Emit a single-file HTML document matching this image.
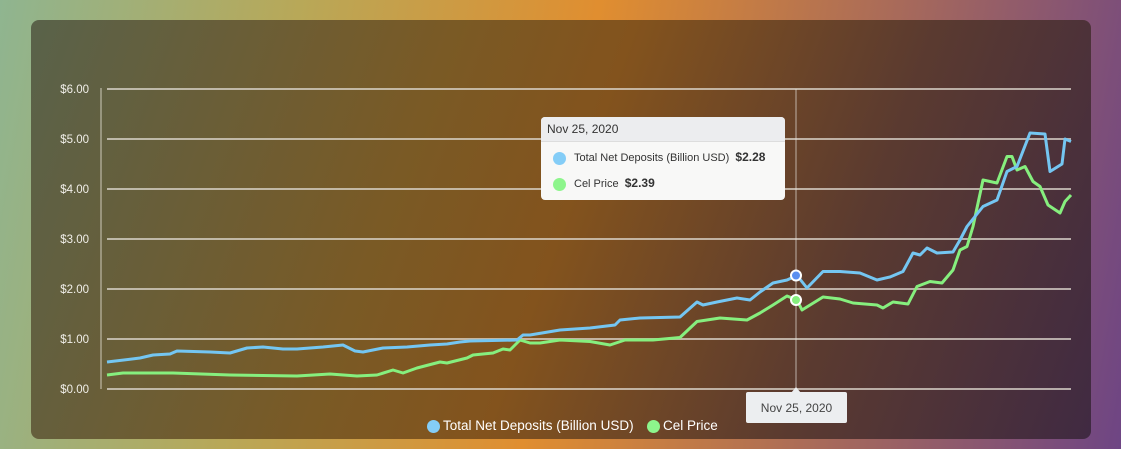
<!DOCTYPE html>
<html><head><meta charset="utf-8"><style>
html,body{margin:0;padding:0;width:1121px;height:449px;overflow:hidden;font-family:"Liberation Sans",sans-serif}
#bg{position:absolute;left:0;top:0;width:1121px;height:449px;background:linear-gradient(100deg,#8fb590 0%,#b8a858 25%,#e08e30 50%,#a86a5a 75%,#6e4584 100%)}
#card{position:absolute;left:31px;top:20px;width:1060px;height:419px;border-radius:8px;background:linear-gradient(110deg,#59624a 0%,#7a5a25 35%,#83531d 50%,#5a3a30 75%,#402a42 100%)}
svg{position:absolute;left:0;top:0}
.tt{position:absolute;left:541px;top:117px;width:244px;height:83px;background:#f8f8f7;border-radius:4px;font-size:11px;color:#333;overflow:hidden}
.tt .hd{background:#ecedef;height:24px;line-height:24px;padding-left:6px;border-bottom:1px solid #ddd;font-size:12px}
.row{position:absolute;left:12px;height:16px;line-height:16px}
.dot{display:inline-block;width:13px;height:13px;border-radius:50%;vertical-align:middle;margin-right:8px}
.xl{position:absolute;left:746px;top:392px;width:101px;height:31px;background:#eceef0;color:#444;font-size:12px;text-align:center;line-height:32px;border-radius:2px}
.lg{position:absolute;top:418px;font-size:13.5px;color:#fff;line-height:16px}
</style></head><body>
<div id="bg"></div>
<div id="card"></div>
<svg id="chart" width="1121" height="449"></svg>
<div class="tt">
 <div class="hd">Nov 25, 2020</div>
 <div class="row" style="top:32px"><span class="dot" style="background:#84cdf7"></span>Total Net Deposits (Billion USD)&nbsp; <b style="font-size:12px">$2.28</b></div>
 <div class="row" style="top:58px"><span class="dot" style="background:#8df58c"></span>Cel Price&nbsp; <b style="font-size:12px">$2.39</b></div>
</div>
<div class="xl">Nov 25, 2020</div>
<div class="lg" style="left:427px"><span class="dot" style="background:#84cdf7;margin-right:3px"></span>Total Net Deposits (Billion USD)</div>
<div class="lg" style="left:647px"><span class="dot" style="background:#8df58c;margin-right:3px"></span>Cel Price</div>
<script>
const yTicks=[0,1,2,3,4,5,6];
const yTickLabels=["$0.00","$1.00","$2.00","$3.00","$4.00","$5.00","$6.00"];
// day offsets (0..964) and values
const depT=[0,33,46,63,70,103,123,140,156,176,190,216,236,248,256,276,300,323,340,353,363,410,416,423,453,483,508,513,533,573,590,596,610,630,643,653,666,680,690,700,716,733,753,770,783,796,806,813,820,830,846,853,860,876,890,900,910,923,938,943,955,958,964];
const depV=[0.54,0.62,0.68,0.70,0.76,0.74,0.72,0.82,0.84,0.80,0.80,0.84,0.88,0.76,0.74,0.82,0.84,0.88,0.90,0.94,0.96,0.98,1.08,1.08,1.18,1.22,1.28,1.38,1.42,1.44,1.74,1.68,1.74,1.82,1.78,1.94,2.12,2.18,2.27,2.02,2.35,2.35,2.32,2.18,2.24,2.35,2.72,2.68,2.82,2.72,2.74,2.98,3.25,3.65,3.78,4.35,4.45,5.12,5.10,4.35,4.50,5.00,4.95];
const celT=[0,16,66,123,190,223,250,270,286,296,310,333,340,360,366,386,396,403,413,423,433,453,483,503,518,546,573,590,613,640,653,666,680,690,695,716,733,746,770,776,786,801,810,823,835,846,853,860,866,876,890,900,905,910,918,926,933,941,953,958,964];
const celV=[0.28,0.32,0.32,0.28,0.26,0.30,0.26,0.28,0.38,0.32,0.42,0.54,0.52,0.62,0.68,0.72,0.80,0.78,0.98,0.92,0.92,0.98,0.95,0.88,0.98,0.98,1.03,1.35,1.42,1.38,1.52,1.68,1.86,1.78,1.58,1.84,1.80,1.72,1.68,1.62,1.74,1.70,2.05,2.15,2.12,2.38,2.78,2.85,3.25,4.18,4.12,4.65,4.65,4.38,4.45,4.15,4.05,3.68,3.52,3.75,3.88];
const hoverT=689, hoverDep=2.27, hoverCel=1.78;
</script>
<script>
const svg=document.getElementById('chart');const NS='http://www.w3.org/2000/svg';
const X0=107,X1=1071,Y0=389,Y1=89;
const xs=t=>X0+(t/964)*(X1-X0);
const ys=v=>Y0-(v/6)*(Y0-Y1);
function mk(tag,attrs){const e=document.createElementNS(NS,tag);for(const k in attrs)e.setAttribute(k,attrs[k]);svg.appendChild(e);return e;}
yTicks.forEach((v,i)=>{
 const g=mk('line',{x1:X0,x2:X1,y1:ys(v),y2:ys(v),stroke:'rgba(220,215,205,0.75)','stroke-width':2});
 
 
 const t=mk('text',{x:89,y:ys(v)+4,'text-anchor':'end','font-size':11.5,fill:'#f1efe9','font-family':'Liberation Sans, sans-serif'});
 t.textContent=yTickLabels[i];
 
 
});
const ax=mk('line',{x1:101,x2:101,y1:88,y2:389,stroke:'rgba(235,230,220,0.8)','stroke-width':1});


const ch=mk('line',{x1:xs(hoverT),x2:xs(hoverT),y1:89,y2:390,stroke:'rgba(230,225,220,0.7)','stroke-width':1});


const ar=mk('path',{d:`M${xs(hoverT)-5} 393 L${xs(hoverT)} 387 L${xs(hoverT)+5} 393 Z`,fill:'#eceef0'});


function line(T,V,c,name){
 const n=Math.min(T.length,V.length);
 let d='';for(let i=0;i<n;i++)d+=(i?'L':'M')+xs(T[i]).toFixed(1)+' '+ys(V[i]).toFixed(1)+' ';
 const p=mk('path',{d:d,fill:'none',stroke:c,'stroke-width':3,'stroke-linejoin':'round'});
 
 
}
line(celT,celV,'#86ef7e','cel-price-line');
line(depT,depV,'#74c6f2','deposits-line');
const m1=mk('circle',{cx:xs(hoverT),cy:ys(hoverDep),r:5,fill:'#5b8ff0',stroke:'#fff','stroke-width':2});


const m2=mk('circle',{cx:xs(hoverT),cy:ys(hoverCel),r:5,fill:'#86ef7e',stroke:'#fff','stroke-width':2});


</script>
</body></html>
